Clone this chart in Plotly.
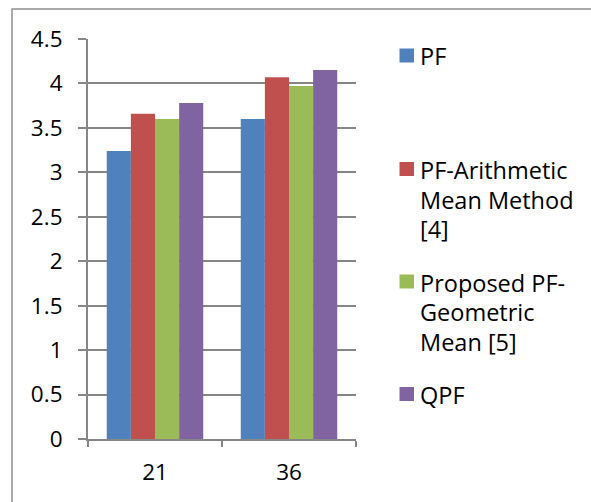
import plotly.graph_objects as go

categories = ["21", "36"]
series_names = ["PF", "PF-Arithmetic Mean Method [4]", "Proposed PF-Geometric Mean [5]", "QPF"]
legend_lines = [["PF"], ["PF-Arithmetic", "Mean Method", "[4]"], ["Proposed PF-", "Geometric", "Mean [5]"], ["QPF"]]
pf = [3.24, 3.60]
pf_arith = [3.66, 4.07]
pf_geom = [3.60, 3.97]
qpf = [3.78, 4.15]
colors = ["#4F81BD", "#C0504D", "#9BBB59", "#8064A2"]
y_ticks = [0, 0.5, 1, 1.5, 2, 2.5, 3, 3.5, 4, 4.5]
y_tick_text = ["0", "0.5", "1", "1.5", "2", "2.5", "3", "3.5", "4", "4.5"]

W, H = 591, 502
L, R, T, B = 88, 235, 39, 63
pw, ph = W - L - R, H - T - B
FONT = "Open Sans"
GRAY = "#868686"
FS = 22.5
FS_LEG = 23.5

def px_x(x):
    return (x - L) / pw

def px_y(y):
    return (H - B - y) / ph

fig = go.Figure()
for name, vals, c in zip(series_names, [pf, pf_arith, pf_geom, qpf], colors):
    fig.add_trace(go.Bar(x=categories, y=vals, name=name, marker=dict(color=c, line=dict(width=0)),
                         showlegend=False))

fig.update_layout(
    width=W, height=H,
    margin=dict(l=L, r=R, t=T, b=B, pad=0),
    paper_bgcolor="white", plot_bgcolor="white",
    barmode="group", bargap=0.28, bargroupgap=0,
    font=dict(family=FONT, size=FS, color="#000000"),
    xaxis=dict(type="category", showline=True, linecolor=GRAY, linewidth=2,
               ticks="outside", tickson="boundaries", ticklen=6, tickcolor=GRAY, tickwidth=2,
               showgrid=False, tickfont=dict(size=FS, family=FONT, color="#000000"), ticklabelstandoff=12),
    yaxis=dict(range=[0, 4.5], tickvals=y_ticks, ticktext=y_tick_text,
               showline=True, linecolor=GRAY, linewidth=2,
               ticks="outside", ticklen=8, tickcolor=GRAY, tickwidth=2,
               showgrid=True, gridcolor=GRAY, gridwidth=2, zeroline=False,
               tickfont=dict(size=FS, family=FONT, color="#000000"), ticklabelstandoff=11),
)

shapes = []
annotations = []
# outer chart border (top and left visible, rest cropped)
shapes.append(dict(type="rect", xref="paper", yref="paper",
                   x0=px_x(12), x1=px_x(620), y0=px_y(530), y1=px_y(9),
                   line=dict(color="#8f8f8f", width=1.5), fillcolor="rgba(0,0,0,0)", layer="below"))

# legend drawn manually to match the spaced layout
line_centers = [[55.5], [169, 198.5, 228], [281.5, 311, 340.5], [394]]
for lines, centers, c in zip(legend_lines, line_centers, colors):
    cy = centers[0]
    shapes.append(dict(type="rect", xref="paper", yref="paper",
                       x0=px_x(399.5), x1=px_x(414), y0=px_y(cy + 7), y1=px_y(cy - 7),
                       line=dict(width=0), fillcolor=c))
    for txt, yc in zip(lines, centers):
        annotations.append(dict(xref="paper", yref="paper", x=px_x(418), y=px_y(yc + 1),
                                text=txt, showarrow=False, xanchor="left", yanchor="middle",
                                font=dict(family=FONT, size=FS_LEG, color="#000000")))

fig.update_layout(shapes=shapes, annotations=annotations)
fig.write_html("out.html")
